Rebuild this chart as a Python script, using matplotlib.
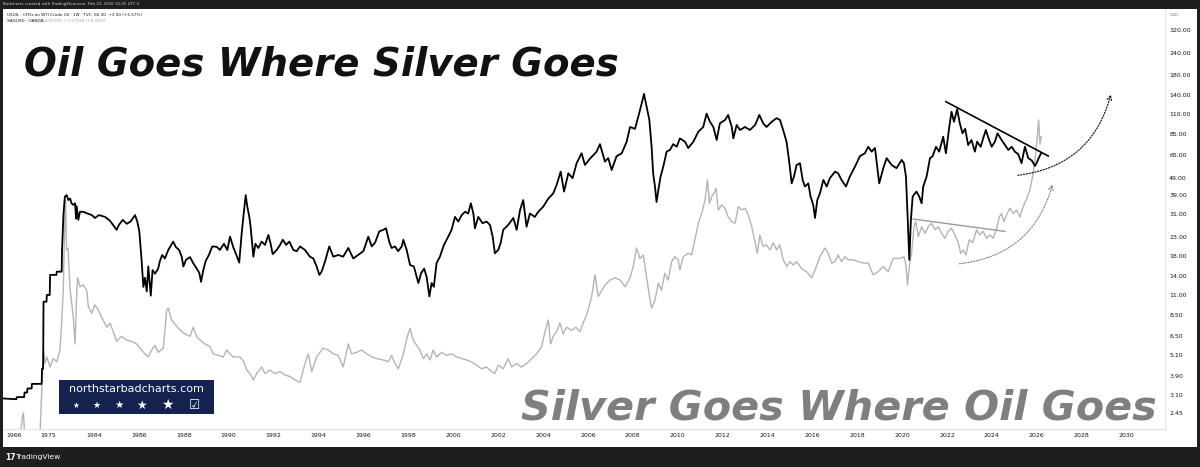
import numpy as np
import matplotlib
matplotlib.use('Agg')
import matplotlib.pyplot as plt
from matplotlib.patches import Rectangle, FancyArrowPatch
from matplotlib.ticker import NullLocator

# USOIL (TVC) closes; before 1983 it is the monthly step series
oil_years = [
    1962.9, 1966.5, 1966.6, 1968.6, 1968.7, 1969.4, 1969.5, 1970.6, 1970.7, 1973.3,
    1973.4, 1973.7, 1973.8, 1974.6, 1974.7, 1975.5, 1975.6, 1977.4, 1977.5, 1978.9,
    1979.0, 1979.4, 1979.8, 1980.3, 1980.8, 1981.3, 1981.7, 1982.2, 1982.7, 1983.0,
    1983.15, 1983.31, 1983.38, 1983.53, 1983.71, 1983.90, 1984.04, 1984.22, 1984.49, 1984.71,
    1985.01, 1985.11, 1985.28, 1985.46, 1985.63, 1985.83, 1985.93, 1986.02, 1986.12, 1986.20,
    1986.27, 1986.35, 1986.42, 1986.53, 1986.61, 1986.72, 1986.86, 1986.94, 1987.04, 1987.16,
    1987.31, 1987.53, 1987.64, 1987.79, 1987.91, 1987.98, 1988.10, 1988.28, 1988.42, 1988.57,
    1988.69, 1988.77, 1988.87, 1988.98, 1989.12, 1989.27, 1989.47, 1989.61, 1989.79, 1989.94,
    1990.06, 1990.20, 1990.38, 1990.47, 1990.58, 1990.67, 1990.76, 1990.83, 1990.92, 1990.98,
    1991.10, 1991.19, 1991.32, 1991.47, 1991.62, 1991.77, 1991.87, 1991.96, 1992.14, 1992.29,
    1992.41, 1992.56, 1992.70, 1992.88, 1993.03, 1993.18, 1993.40, 1993.62, 1993.77, 1993.92,
    1994.04, 1994.14, 1994.29, 1994.48, 1994.66, 1994.88, 1995.10, 1995.33, 1995.55, 1995.77,
    1996.00, 1996.22, 1996.37, 1996.52, 1996.71, 1996.89, 1997.01, 1997.15, 1997.26, 1997.41,
    1997.55, 1997.71, 1997.78, 1997.93, 1998.08, 1998.25, 1998.45, 1998.57, 1998.71, 1998.82,
    1998.94, 1999.04, 1999.14, 1999.26, 1999.41, 1999.59, 1999.78, 1999.93, 2000.08, 2000.23,
    2000.38, 2000.53, 2000.67, 2000.79, 2000.90, 2000.97, 2001.12, 2001.31, 2001.49, 2001.64,
    2001.76, 2001.86, 2002.01, 2002.12, 2002.23, 2002.45, 2002.68, 2002.83, 2002.98, 2003.12,
    2003.27, 2003.42, 2003.64, 2003.79, 2004.01, 2004.24, 2004.46, 2004.61, 2004.79, 2004.94,
    2005.13, 2005.32, 2005.50, 2005.72, 2005.87, 2006.09, 2006.39, 2006.54, 2006.76, 2006.91,
    2007.06, 2007.28, 2007.51, 2007.73, 2007.88, 2008.10, 2008.25, 2008.40, 2008.50, 2008.62,
    2008.74, 2008.84, 2008.91, 2008.99, 2009.06, 2009.14, 2009.24, 2009.36, 2009.51, 2009.66,
    2009.80, 2009.96, 2010.10, 2010.33, 2010.47, 2010.70, 2010.92, 2011.14, 2011.29, 2011.44,
    2011.59, 2011.74, 2011.88, 2012.11, 2012.25, 2012.41, 2012.48, 2012.63, 2012.78, 2013.00,
    2013.22, 2013.45, 2013.64, 2013.81, 2013.96, 2014.19, 2014.41, 2014.56, 2014.70, 2014.85,
    2014.96, 2015.08, 2015.18, 2015.30, 2015.45, 2015.57, 2015.67, 2015.82, 2015.92, 2016.04,
    2016.12, 2016.22, 2016.34, 2016.49, 2016.64, 2016.78, 2017.01, 2017.15, 2017.30, 2017.50,
    2017.67, 2017.90, 2018.12, 2018.34, 2018.49, 2018.64, 2018.79, 2018.89, 2018.98, 2019.16,
    2019.31, 2019.53, 2019.75, 2019.98, 2020.08, 2020.17, 2020.24, 2020.32, 2020.39, 2020.47,
    2020.64, 2020.76, 2020.87, 2020.94, 2021.09, 2021.24, 2021.36, 2021.51, 2021.65, 2021.83,
    2021.95, 2022.10, 2022.20, 2022.31, 2022.45, 2022.57, 2022.69, 2022.81, 2022.94, 2023.09,
    2023.24, 2023.34, 2023.50, 2023.61, 2023.73, 2023.85, 2023.99, 2024.13, 2024.25, 2024.43,
    2024.58, 2024.73, 2024.88, 2025.02, 2025.17, 2025.32, 2025.47, 2025.62, 2025.77, 2025.92,
    2026.02, 2026.11, 2026.18,
]
oil_prices = [
    2.95, 2.92, 3.00, 3.00, 3.18, 3.18, 3.35, 3.35, 3.55, 3.55,
    4.30, 4.30, 10.1, 10.1, 11.0, 11.0, 14.2, 14.2, 14.8, 14.8,
    19.5, 30.5, 38.4, 39.2, 36.8, 37.5, 35.3, 34.6, 35.3, 29.0,
    34.0, 28.6, 31.7, 31.7, 31.0, 30.4, 29.3, 30.4, 29.7, 28.3,
    25.2, 26.8, 28.6, 27.2, 28.0, 30.4, 28.0, 24.7, 17.2, 12.2,
    13.7, 11.5, 15.8, 10.9, 15.1, 14.4, 15.4, 17.0, 18.3, 17.5,
    19.5, 21.7, 20.3, 19.5, 17.9, 15.8, 17.2, 17.8, 16.5, 15.4,
    14.6, 13.0, 15.1, 17.0, 18.3, 20.4, 20.3, 19.5, 21.1, 19.5,
    23.1, 20.3, 17.8, 16.6, 24.1, 31.0, 39.2, 33.8, 29.7, 26.0,
    17.9, 21.1, 20.0, 21.7, 20.8, 23.6, 21.1, 18.5, 19.5, 20.8,
    22.2, 20.8, 21.7, 19.5, 19.2, 20.4, 19.5, 17.9, 17.5, 15.8,
    14.2, 14.8, 16.8, 20.4, 17.9, 18.3, 17.9, 20.0, 17.5, 18.3,
    19.2, 23.1, 20.4, 21.4, 24.7, 25.2, 25.7, 21.7, 20.0, 20.4,
    19.2, 20.4, 22.2, 19.5, 16.1, 15.8, 12.8, 14.5, 15.4, 13.8,
    10.8, 12.8, 12.2, 16.5, 17.9, 20.8, 23.1, 25.2, 29.7, 28.0,
    30.4, 31.7, 31.0, 35.3, 31.0, 25.7, 29.7, 27.4, 28.0, 26.8,
    23.1, 18.7, 19.5, 21.4, 25.2, 26.8, 29.3, 25.2, 32.4, 36.8,
    26.2, 31.0, 29.7, 31.7, 33.8, 37.5, 40.1, 44.6, 52.8, 41.0,
    51.7, 48.6, 58.8, 66.7, 57.5, 62.2, 68.1, 74.9, 60.0, 62.7,
    53.9, 64.3, 66.7, 77.3, 93.2, 91.0, 106.6, 126.0, 142.0, 120.5,
    101.9, 72.5, 51.5, 43.7, 35.9, 41.8, 49.6, 56.3, 68.1, 69.6,
    74.9, 72.5, 80.6, 77.3, 71.3, 77.3, 87.7, 93.2, 110.5, 99.6,
    93.2, 79.0, 97.6, 101.9, 108.6, 93.2, 80.6, 95.6, 89.7, 93.2,
    89.7, 95.6, 108.6, 97.6, 93.2, 99.6, 104.3, 101.9, 89.7, 77.3,
    61.3, 45.5, 49.6, 57.5, 58.8, 47.5, 43.7, 45.5, 38.5, 34.6,
    29.3, 36.8, 40.1, 47.5, 43.7, 48.6, 52.8, 51.7, 47.5, 43.7,
    49.6, 56.3, 64.3, 66.7, 72.5, 68.1, 71.3, 56.3, 45.5, 55.2,
    62.7, 57.5, 55.2, 61.3, 58.8, 49.6, 31.0, 17.2, 28.6, 38.5,
    41.0, 38.5, 35.3, 43.7, 49.6, 62.7, 64.3, 72.5, 68.1, 82.4,
    66.7, 93.2, 113.2, 99.6, 116.8, 97.6, 86.0, 91.0, 74.1, 79.0,
    68.1, 77.3, 72.5, 80.6, 89.7, 80.6, 72.5, 77.3, 86.0, 79.0,
    74.1, 69.6, 72.5, 68.1, 66.0, 58.8, 72.5, 62.7, 61.0, 56.8,
    60.0, 63.8, 66.3,
]

# XAGUSD (OANDA) closes on the same price axis
silver_years = [
    1962.9, 1967.5, 1968.15, 1968.4, 1968.7, 1970.2, 1972.3, 1972.9, 1973.4, 1973.8,
    1974.2, 1974.7, 1975.57, 1976.5, 1977.5, 1978.4, 1978.9, 1979.35, 1979.8, 1980.0,
    1980.3, 1980.7, 1981.3, 1982.2, 1982.7, 1983.2, 1983.28, 1983.38, 1983.53, 1983.68,
    1983.75, 1983.90, 1984.04, 1984.19, 1984.34, 1984.57, 1984.71, 1984.86, 1985.01, 1985.23,
    1985.46, 1985.68, 1985.90, 1986.04, 1986.27, 1986.42, 1986.57, 1986.72, 1986.86, 1987.09,
    1987.24, 1987.31, 1987.46, 1987.61, 1987.76, 1987.91, 1988.05, 1988.28, 1988.42, 1988.57,
    1988.72, 1988.94, 1989.17, 1989.31, 1989.54, 1989.76, 1989.91, 1990.06, 1990.20, 1990.50,
    1990.65, 1990.80, 1990.95, 1991.10, 1991.25, 1991.47, 1991.62, 1991.84, 1992.06, 1992.29,
    1992.51, 1992.73, 1992.96, 1993.18, 1993.40, 1993.55, 1993.70, 1993.92, 1994.21, 1994.44,
    1994.66, 1994.88, 1995.10, 1995.33, 1995.48, 1995.70, 1995.92, 1996.15, 1996.37, 1996.59,
    1996.89, 1997.11, 1997.26, 1997.41, 1997.56, 1997.78, 1997.96, 1998.08, 1998.22, 1998.37,
    1998.52, 1998.67, 1998.82, 1998.97, 1999.11, 1999.26, 1999.49, 1999.71, 1999.93, 2000.16,
    2000.38, 2000.60, 2000.82, 2001.04, 2001.27, 2001.49, 2001.71, 2001.86, 2002.01, 2002.23,
    2002.45, 2002.60, 2002.82, 2003.04, 2003.27, 2003.50, 2003.72, 2003.94, 2004.09, 2004.24,
    2004.34, 2004.46, 2004.61, 2004.76, 2004.90, 2005.05, 2005.28, 2005.47, 2005.65, 2005.79,
    2005.97, 2006.17, 2006.32, 2006.46, 2006.77, 2006.99, 2007.21, 2007.44, 2007.66, 2007.88,
    2008.02, 2008.17, 2008.32, 2008.47, 2008.62, 2008.77, 2008.84, 2008.99, 2009.14, 2009.28,
    2009.43, 2009.58, 2009.73, 2009.88, 2010.03, 2010.10, 2010.25, 2010.47, 2010.62, 2010.77,
    2010.92, 2011.07, 2011.22, 2011.33, 2011.42, 2011.52, 2011.62, 2011.71, 2011.81, 2011.96,
    2012.11, 2012.25, 2012.40, 2012.56, 2012.70, 2012.86, 2013.00, 2013.15, 2013.30, 2013.45,
    2013.55, 2013.66, 2013.81, 2013.96, 2014.11, 2014.26, 2014.41, 2014.55, 2014.70, 2014.86,
    2015.00, 2015.15, 2015.30, 2015.52, 2015.74, 2015.97, 2016.12, 2016.34, 2016.56, 2016.71,
    2016.86, 2017.01, 2017.15, 2017.30, 2017.45, 2017.60, 2017.82, 2018.05, 2018.27, 2018.49,
    2018.71, 2018.93, 2019.16, 2019.38, 2019.60, 2019.90, 2020.08, 2020.17, 2020.24, 2020.32,
    2020.42, 2020.53, 2020.61, 2020.72, 2020.87, 2021.02, 2021.16, 2021.31, 2021.46, 2021.61,
    2021.76, 2021.91, 2022.05, 2022.20, 2022.35, 2022.50, 2022.61, 2022.72, 2022.84, 2022.99,
    2023.14, 2023.32, 2023.46, 2023.61, 2023.76, 2023.91, 2024.06, 2024.21, 2024.33, 2024.43,
    2024.53, 2024.65, 2024.80, 2024.95, 2025.10, 2025.25, 2025.39, 2025.55, 2025.69, 2025.81,
    2025.92, 2026.02, 2026.08, 2026.14, 2026.20,
]
silver_prices = [
    1.25, 1.80, 2.34, 2.45, 1.90, 1.70, 1.90, 1.97, 3.57, 5.46,
    4.60, 5.00, 4.40, 4.90, 4.70, 5.46, 7.70, 11.7, 29.7, 36.8,
    19.5, 19.9, 11.7, 8.30, 5.90, 11.7, 13.7, 12.2, 12.5, 11.7,
    9.50, 8.70, 9.70, 9.10, 8.30, 7.30, 7.70, 6.90, 6.10, 6.50,
    6.20, 6.10, 5.90, 5.60, 5.20, 5.00, 5.46, 5.80, 5.30, 5.60,
    9.10, 9.30, 8.00, 7.60, 7.20, 6.90, 6.70, 6.50, 7.30, 6.50,
    6.20, 5.90, 5.70, 5.20, 5.10, 5.00, 5.46, 5.20, 5.00, 5.00,
    4.77, 4.23, 4.05, 3.73, 4.05, 4.40, 4.05, 4.23, 4.05, 4.15,
    3.97, 3.90, 3.73, 3.62, 4.60, 5.20, 4.15, 5.00, 5.60, 5.46,
    5.20, 5.10, 4.40, 5.90, 5.20, 5.30, 5.46, 5.20, 5.00, 4.90,
    4.81, 4.70, 5.10, 4.60, 4.30, 5.20, 6.50, 7.20, 6.20, 5.80,
    5.46, 4.90, 5.20, 4.81, 5.46, 5.00, 5.30, 5.10, 5.20, 5.00,
    4.90, 4.81, 4.70, 4.51, 4.30, 4.40, 4.15, 4.05, 4.51, 4.30,
    4.90, 4.40, 4.60, 4.40, 4.60, 4.90, 5.20, 5.70, 6.90, 8.00,
    5.90, 6.50, 6.90, 7.70, 6.70, 7.30, 7.00, 7.30, 6.90, 7.70,
    8.70, 10.8, 14.2, 10.8, 12.5, 13.3, 13.7, 13.3, 12.2, 13.7,
    15.8, 20.0, 17.5, 18.3, 13.7, 10.3, 9.30, 10.3, 12.8, 11.7,
    14.5, 13.3, 16.8, 17.9, 17.2, 15.1, 17.9, 18.7, 18.3, 22.2,
    27.4, 31.0, 36.8, 47.5, 35.3, 38.5, 40.1, 42.7, 32.4, 34.6,
    33.2, 29.7, 28.0, 27.4, 33.8, 32.4, 33.2, 30.4, 26.2, 21.4,
    18.7, 23.6, 20.4, 20.8, 19.5, 21.4, 19.5, 20.8, 17.2, 15.8,
    16.8, 16.1, 16.8, 15.4, 14.8, 13.7, 15.1, 17.9, 20.0, 18.7,
    16.5, 16.8, 18.3, 16.8, 17.9, 17.2, 17.2, 16.8, 16.5, 16.5,
    14.2, 14.8, 15.8, 14.8, 17.5, 17.5, 17.9, 16.1, 12.5, 15.8,
    18.7, 26.2, 28.0, 23.1, 26.2, 24.1, 26.2, 27.4, 25.2, 26.2,
    24.1, 22.6, 24.7, 25.7, 23.6, 21.4, 18.7, 19.5, 18.3, 22.2,
    21.4, 25.2, 23.6, 24.7, 22.6, 23.6, 22.6, 25.7, 29.7, 31.0,
    28.0, 30.4, 33.2, 31.0, 32.4, 29.7, 33.8, 37.5, 41.8, 49.6,
    61.3, 82.4, 101.9, 74.9, 82.4,
]

# hand drawn trend lines and "where it goes next" arrows
oil_trend_years = [2021.95, 2026.51]
oil_trend_prices = [128.6, 64.4]
silver_trend_years = [2020.49, 2024.58]
silver_trend_prices = [28.9, 24.7]
oil_arrow = [(2025.03, 50.2), (2029.33, 146.0)]
silver_arrow = [(2022.43, 16.3), (2026.73, 46.5)]

year_ticks = [1966, 1975, 1984, 1986, 1988, 1990, 1992, 1994, 1996, 1998, 2000, 2002, 2004,
              2006, 2008, 2010, 2012, 2014, 2016, 2018, 2020, 2022, 2024, 2026, 2028, 2030]
price_ticks = [2.45, 3.10, 3.90, 5.10, 6.50, 8.50, 11, 14, 18, 23, 31, 39, 49, 65, 85,
               110, 140, 180, 240, 320]

# TradingView spaces bars evenly, so the sparse early years get squeezed
bar_years = [1960, 1966, 1975, 1983.25, 1984, 2035]
bar_pos = [-7.8, 14.5, 48, 77, 94, 1239]


def to_bars(y):
    return np.interp(y, bar_years, bar_pos)


def from_bars(p):
    return np.interp(p, bar_pos, bar_years)


W, H = 1200, 467


def fx(x):
    return x / W


def fy(y):
    return 1 - y / H


fig = plt.figure(figsize=(W / 100, H / 100), dpi=100, facecolor='#1e1e1e')
fig.add_artist(Rectangle((fx(3), fy(447)), 1194 / W, 438 / H, transform=fig.transFigure,
                         facecolor='white', edgecolor='none', zorder=-5))

ax = fig.add_axes([fx(3), fy(429), 1162 / W, 420 / H])
ax.set_xscale('function', functions=(to_bars, from_bars))
ax.set_yscale('log')
ax.set_xlim(1962.91, 2031.71)
ax.set_ylim(2.0, 418)

ax.plot(silver_years, silver_prices, color='#b4b4b4', lw=1.0, zorder=2)
ax.plot(oil_years, oil_prices, color='black', lw=1.3, zorder=3)
ax.plot(oil_trend_years, oil_trend_prices, color='black', lw=1.2, zorder=4)
ax.plot(silver_trend_years, silver_trend_prices, color='#9a9a9a', lw=1.0, zorder=4)

for (a, b), col in [(oil_arrow, '#222222'), (silver_arrow, '#8c8c8c')]:
    arr = FancyArrowPatch(a, b, arrowstyle='->', mutation_scale=8, lw=0.9, color=col,
                          linestyle=(0, (1, 1.3)), connectionstyle='arc3,rad=0.35', zorder=5)
    ax.add_patch(arr)

# axes look like the TradingView price / time scales
for s in ['top', 'left']:
    ax.spines[s].set_visible(False)
for s in ['bottom', 'right']:
    ax.spines[s].set_color('#e0e3eb')
    ax.spines[s].set_linewidth(0.8)
ax.yaxis.tick_right()
ax.yaxis.set_minor_locator(NullLocator())
ax.xaxis.set_minor_locator(NullLocator())
ax.set_yticks(price_ticks, labels=[f'{v:.2f}' for v in price_ticks])
ax.set_xticks(year_ticks, labels=[str(y) for y in year_ticks])
ax.tick_params(axis='y', length=0, labelsize=4.5, pad=3, labelcolor='#131722')
ax.tick_params(axis='x', length=0, labelsize=4.5, pad=3, labelcolor='#131722')

# big captions
fig.text(fx(24), fy(76), 'Oil Goes Where Silver Goes', fontsize=27.8, fontweight='bold',
         style='italic', color='#111111', va='baseline')
fig.text(fx(521), fy(420), 'Silver Goes Where Oil Goes', fontsize=29.8, fontweight='bold',
         style='italic', color='#7f7f7f', va='baseline')

# header lines
fig.text(fx(3), fy(4.5), 'Badcharts created with TradingView.com, Feb 22, 2026 10:25 UTC-5',
         fontsize=2.9, color='#d0d0d0', va='center')
fig.text(fx(7), fy(15), 'USOIL \u00b7 CFDs on WTI Crude Oil \u00b7 1W \u00b7 TVC  66.30  +3.50 (+5.57%)',
         fontsize=3.0, color='#131722', va='center')
fig.text(fx(7), fy(21), 'XAGUSD \u00b7 OANDA', fontsize=3.0, color='#131722', va='center')
fig.text(fx(42), fy(21), '84.02750  +7.17190 (+9.33%)', fontsize=3.0, color='#9a9a9a', va='center')
fig.text(fx(1170), fy(15), 'USD', fontsize=3.2, color='#787b86', va='center')

# northstarbadcharts logo box
fig.add_artist(Rectangle((fx(59), fy(414)), 155 / W, 34 / H, transform=fig.transFigure,
                         facecolor='#13224f', edgecolor='none', zorder=6))
fig.text(fx(136.5), fy(389), 'northstarbadcharts.com', fontsize=8, color='white',
         ha='center', va='center', zorder=7)
for x, s in zip([76, 96.7, 119.3, 141, 167.3], [5.5, 6.5, 7.5, 8.5, 10]):
    fig.text(fx(x), fy(405), '\u2605', fontsize=s, color='white', ha='center', va='center', zorder=7)
fig.text(fx(195), fy(405), '\u2611', fontsize=9, color='white', ha='center', va='center', zorder=7)

# footer
fig.text(fx(5), fy(457), '17', fontsize=5.5, fontweight='bold', color='white', va='center')
fig.text(fx(15), fy(457), 'TradingView', fontsize=5.4, color='white', va='center')

fig.savefig('out.png', dpi=100, facecolor=fig.get_facecolor())
